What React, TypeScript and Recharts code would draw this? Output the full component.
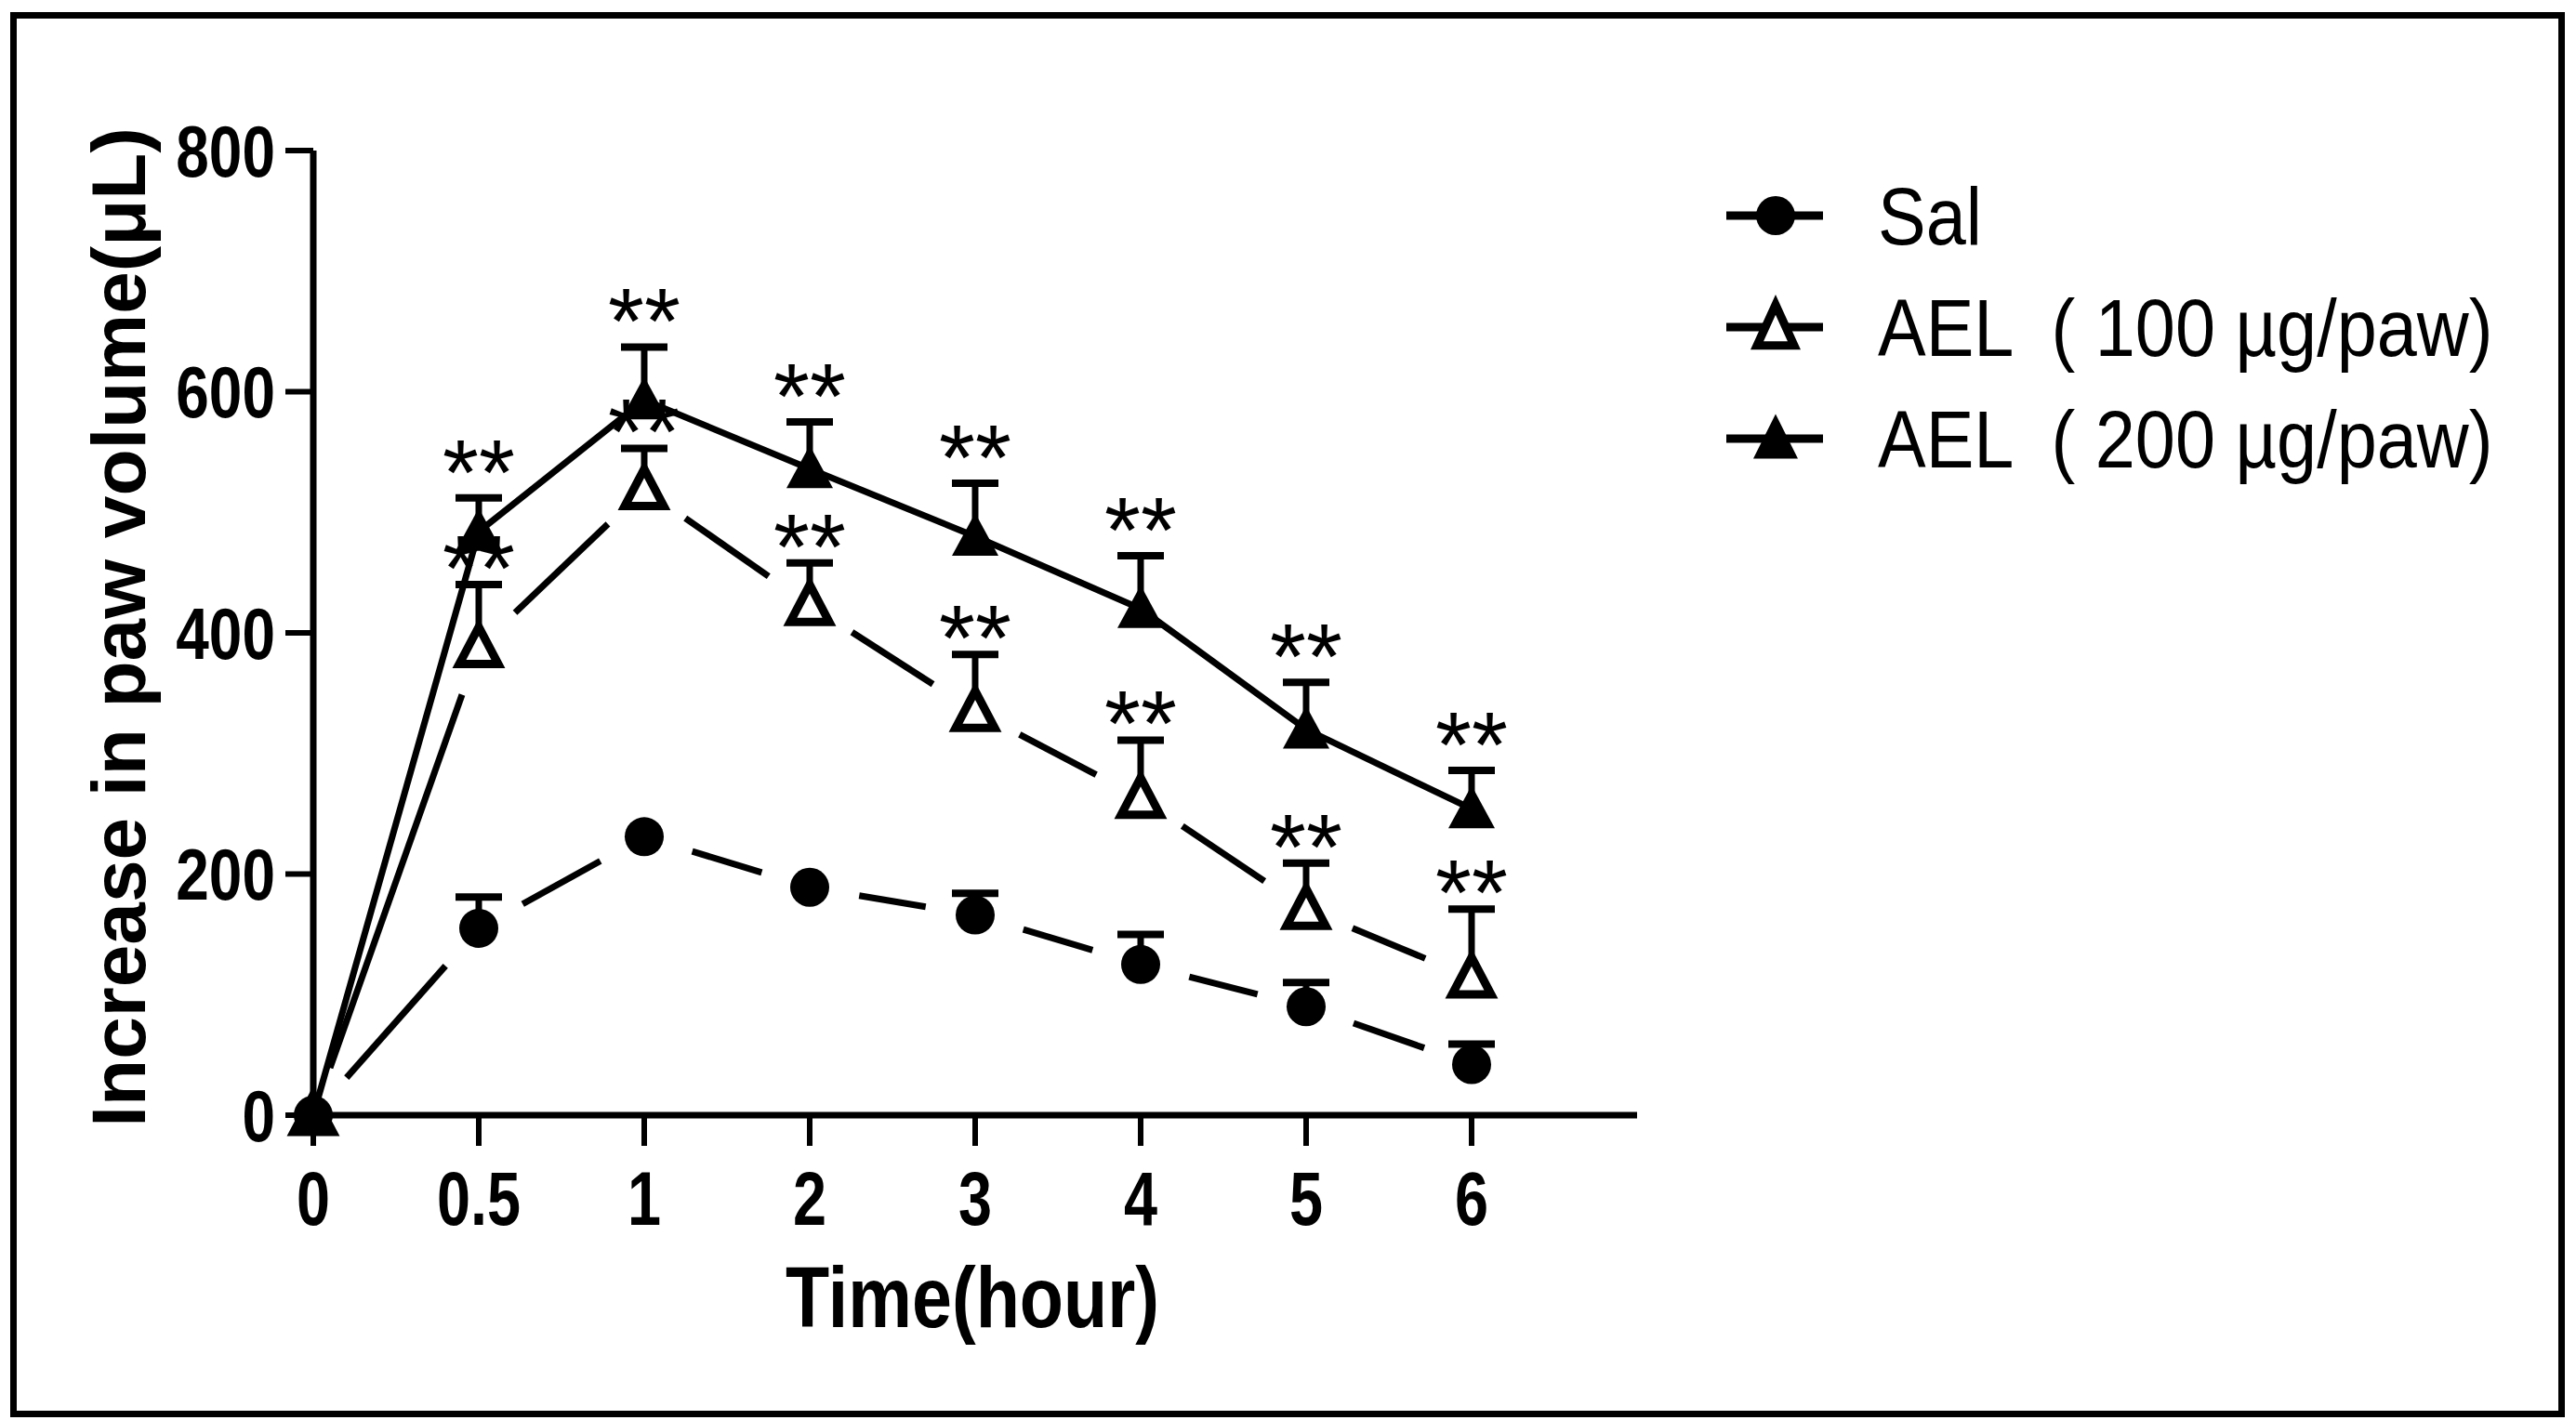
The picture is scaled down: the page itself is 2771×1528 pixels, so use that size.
import React from "react";
import {
  ComposedChart,
  Line,
  XAxis,
  YAxis,
  ErrorBar,
  LabelList,
  Label,
  Legend,
} from "recharts";

// time points (evenly spaced on the axis, like the original)
const timeLabels = ["0", "0.5", "1", "2", "3", "4", "5", "6"];

// mean increase in paw volume (µL)
const salMean = [0, 155, 231, 189, 166, 125, 90, 42];
const ael100Mean = [0, 388, 519, 423, 335, 263, 171, 114];
const ael200Mean = [0, 484, 593, 536, 480, 420, 320, 254];

// upper error (SEM); null = not drawn
const salErr = [null, 26, null, null, 18, 25, 20, 17];
const ael100Err = [null, 52, 34, 35, 47, 48, 38, 57];
const ael200Err = [null, 28, 44, 39, 44, 44, 39, 32];

// significance marks
const ael100Sig = ["", "**", "**", "**", "**", "**", "**", "**"];
const ael200Sig = ["", "**", "**", "**", "**", "**", "**", "**"];

const yTicks = [0, 200, 400, 600, 800];

const seriesNames = ["Sal", "AEL  ( 100 \u00b5g/paw)", "AEL  ( 200 \u00b5g/paw)"];

const data = timeLabels.map((t, i) => ({
  idx: i,
  time: t,
  sal: salMean[i],
  a100: ael100Mean[i],
  a200: ael200Mean[i],
  salErr: salErr[i] == null ? null : [0, salErr[i]],
  a100Err: ael100Err[i] == null ? null : [0, ael100Err[i]],
  a200Err: ael200Err[i] == null ? null : [0, ael200Err[i]],
  salTop: salErr[i] == null ? null : salMean[i] + (salErr[i] as number),
  a100Top: ael100Err[i] == null ? null : ael100Mean[i] + (ael100Err[i] as number),
  a200Top: ael200Err[i] == null ? null : ael200Mean[i] + (ael200Err[i] as number),
  a100Sig: ael100Sig[i],
  a200Sig: ael200Sig[i],
}));

const SANS = "'Liberation Sans', Arial, sans-serif";
const INK = "#000";
const LINE_W = 7;

// dashed look of GraphPad: one dash per segment, gaps around the markers
function dashSegments(gap: number) {
  return (props: any) => {
    const { cx, cy, index, points } = props;
    const next = points ? points[index + 1] : null;
    if (cx == null || cy == null || !next || next.y == null) return <g key={`s-${index}`} />;
    const dx = next.x - cx;
    const dy = next.y - cy;
    const len = Math.hypot(dx, dy);
    if (len <= gap * 2) return <g key={`s-${index}`} />;
    const ux = dx / len;
    const uy = dy / len;
    return (
      <line
        key={`s-${index}`}
        x1={cx + ux * gap}
        y1={cy + uy * gap}
        x2={next.x - ux * gap}
        y2={next.y - uy * gap}
        stroke={INK}
        strokeWidth={LINE_W}
      />
    );
  };
}

function trianglePath(cx: number, cy: number, w: number, h: number) {
  return `M${cx},${cy - h * 0.55} L${cx + w / 2},${cy + h * 0.45} L${cx - w / 2},${cy + h * 0.45} Z`;
}

const circleDot = (props: any) => {
  const { cx, cy, index } = props;
  if (cx == null || cy == null) return <g key={`c-${index}`} />;
  return <circle key={`c-${index}`} cx={cx} cy={cy} r={21} fill={INK} />;
};

const openTriangleDot = (props: any) => {
  const { cx, cy, index } = props;
  if (cx == null || cy == null) return <g key={`o-${index}`} />;
  return <path key={`o-${index}`} d={trianglePath(cx, cy, 42, 40)} fill="#fff" stroke={INK} strokeWidth={9} />;
};

const filledTriangleDot = (props: any) => {
  const { cx, cy, index } = props;
  if (cx == null || cy == null) return <g key={`f-${index}`} />;
  return <path key={`f-${index}`} d={trianglePath(cx, cy, 50, 46)} fill={INK} />;
};

const capDot = (props: any) => {
  const { cx, cy, index } = props;
  if (cx == null || cy == null) return <g key={`k-${index}`} />;
  return <line key={`k-${index}`} x1={cx - 25} x2={cx + 25} y1={cy} y2={cy} stroke={INK} strokeWidth={8} />;
};

function starLabel(lift: number) {
  return (props: any) => {
    const { value, index } = props;
    const x = props.x ?? props.viewBox?.x;
    const y = props.y ?? props.viewBox?.y;
    if (!value || x == null || y == null) return null;
    return (
      <text key={`st-${index}`} x={x} y={y + 57 - lift} textAnchor="middle" fontFamily={SANS} fontSize={100} fill={INK}>
        {value}
      </text>
    );
  };
}

// condensed text (no narrow font installed, so squeeze horizontally)
function Squeezed({ x, y, sx, anchor, size, bold, dy, children }: any) {
  return (
    <text
      transform={`translate(${x},${y}) scale(${sx},1)`}
      textAnchor={anchor}
      dy={dy}
      fontFamily={SANS}
      fontWeight={bold ? "bold" : "normal"}
      fontSize={size}
      fill={INK}
      style={{ whiteSpace: "pre" }}
    >
      {children}
    </text>
  );
}

const xTick = (props: any) => {
  const { x, y, payload } = props;
  return (
    <Squeezed x={x} y={y} sx={0.8} anchor="middle" size={81} bold dy="0.71em">
      {timeLabels[payload.value] ?? ""}
    </Squeezed>
  );
};

const yTick = (props: any) => {
  const { x, y, payload } = props;
  return (
    <Squeezed x={x} y={y} sx={0.82} anchor="end" size={78} bold dy="0.355em">
      {String(payload.value)}
    </Squeezed>
  );
};

function LegendBox() {
  const rows = [0, 1, 2];
  return (
    <svg width={900} height={400}>
      {rows.map((r) => {
        const cy = 82 + r * 120;
        return (
          <g key={r}>
            <line x1={17} x2={121} y1={cy} y2={cy} stroke={INK} strokeWidth={9} />
            {r === 0 && <circle cx={70} cy={cy} r={21} fill={INK} />}
            {r === 1 && <path d={trianglePath(70, cy, 40, 44)} fill="#fff" stroke={INK} strokeWidth={9} />}
            {r === 2 && <path d={trianglePath(70, cy, 48, 48)} fill={INK} />}
            <Squeezed x={180} y={cy + 31} sx={0.88} anchor="start" size={88}>
              {seriesNames[r]}
            </Squeezed>
          </g>
        );
      })}
    </svg>
  );
}

const yTitle = (props: any) => {
  const vb = props.viewBox || {};
  const x = (vb.x ?? 337) - 180;
  const y = (vb.y ?? 162) + (vb.height ?? 1038) / 2 - 6;
  return (
    <text
      x={x}
      y={y}
      transform={`rotate(-90 ${x} ${y})`}
      textAnchor="middle"
      fontFamily={SANS}
      fontWeight="bold"
      fontSize={82}
      fill={INK}
    >
      Increase in paw volume(μL)
    </text>
  );
};

const xTitle = (props: any) => {
  const vb = props.viewBox || {};
  const x = (vb.x ?? 337) + (vb.width ?? 1424) / 2 - 3;
  const y = (vb.y ?? 1200) + 228;
  return (
    <Squeezed x={x} y={y} sx={0.84} anchor="middle" size={92} bold>
      Time(hour)
    </Squeezed>
  );
};

export default function App() {
  return (
    <div style={{ position: "absolute", left: 0, top: 0, width: 2771, height: 1528, background: "#fff" }}>
      <div
        style={{
          position: "absolute",
          left: 11,
          top: 13,
          width: 2734,
          height: 1498,
          border: "7px solid #000",
        }}
      />
      <div style={{ position: "absolute", left: 0, top: 0 }}>
        <ComposedChart width={2771} height={1528} data={data} margin={{ top: 162, right: 1010, bottom: 327, left: 336 }}>
          <XAxis
            dataKey="idx"
            type="number"
            domain={[0, 8]}
            ticks={[0, 1, 2, 3, 4, 5, 6, 7]}
            interval={0}
            height={1}
            axisLine={{ stroke: INK, strokeWidth: 7 }}
            tickLine={{ stroke: INK, strokeWidth: 6 }}
            tickSize={33}
            tickMargin={27}
            tick={xTick}
          >
            <Label content={xTitle} />
          </XAxis>
          <YAxis
            type="number"
            domain={[0, 800]}
            ticks={yTicks}
            interval={0}
            width={1}
            axisLine={{ stroke: INK, strokeWidth: 7 }}
            tickLine={{ stroke: INK, strokeWidth: 6 }}
            tickSize={30}
            tickMargin={11}
            tick={yTick}
          >
            <Label content={yTitle} />
          </YAxis>
          <Legend
            layout="vertical"
            align="center"
            verticalAlign="middle"
            wrapperStyle={{ left: 1840, top: 150, width: 900, height: 400 }}
            content={() => <LegendBox />}
          />

          {/* dashed connectors */}
          <Line dataKey="sal" stroke="none" dot={dashSegments(54)} activeDot={false} isAnimationActive={false} legendType="none" />
          <Line dataKey="a100" stroke="none" dot={dashSegments(54)} activeDot={false} isAnimationActive={false} legendType="none" />
          {/* solid connector */}
          <Line dataKey="a200" stroke={INK} strokeWidth={LINE_W} dot={false} activeDot={false} isAnimationActive={false} legendType="none" />

          {/* markers with upper error stems */}
          <Line dataKey="sal" stroke="none" dot={circleDot} activeDot={false} isAnimationActive={false}>
            <ErrorBar dataKey="salErr" direction="y" width={0} stroke={INK} strokeWidth={7} />
          </Line>
          <Line dataKey="a100" stroke="none" dot={openTriangleDot} activeDot={false} isAnimationActive={false}>
            <ErrorBar dataKey="a100Err" direction="y" width={0} stroke={INK} strokeWidth={7} />
          </Line>
          <Line dataKey="a200" stroke="none" dot={filledTriangleDot} activeDot={false} isAnimationActive={false}>
            <ErrorBar dataKey="a200Err" direction="y" width={0} stroke={INK} strokeWidth={7} />
          </Line>

          {/* error caps and significance stars */}
          <Line dataKey="salTop" stroke="none" dot={capDot} activeDot={false} isAnimationActive={false} legendType="none" />
          <Line dataKey="a100Top" stroke="none" dot={capDot} activeDot={false} isAnimationActive={false} legendType="none">
            <LabelList dataKey="a100Sig" content={starLabel(40)} />
          </Line>
          <Line dataKey="a200Top" stroke="none" dot={capDot} activeDot={false} isAnimationActive={false} legendType="none">
            <LabelList dataKey="a200Sig" content={starLabel(50)} />
          </Line>
        </ComposedChart>
      </div>
    </div>
  );
}
